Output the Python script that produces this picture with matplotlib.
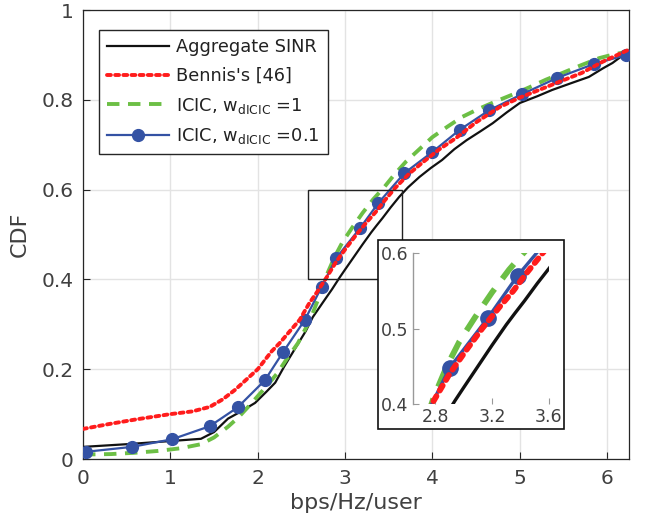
import matplotlib
matplotlib.use("Agg")
import matplotlib.pyplot as plt
from matplotlib.patches import Rectangle
from matplotlib.ticker import FuncFormatter

# ---------------- data ----------------
agg_x = [0, 0.5, 1.0, 1.35, 1.5, 1.66, 1.8, 1.97, 2.1, 2.2, 2.3, 2.44, 2.55, 2.63,
         2.75, 2.85, 2.94, 3.0, 3.1, 3.2, 3.3, 3.36, 3.43, 3.52, 3.62, 3.72, 3.85,
         3.98, 4.11, 4.25, 4.39, 4.55, 4.69, 4.85, 5.0, 5.2, 5.37, 5.6, 5.79, 5.95,
         6.06, 6.15, 6.25]
agg_y = [0.027, 0.033, 0.04, 0.045, 0.06, 0.09, 0.105, 0.125, 0.15, 0.17, 0.205,
         0.25, 0.285, 0.316, 0.35, 0.378, 0.405, 0.422, 0.45, 0.478, 0.505, 0.52,
         0.537, 0.56, 0.584, 0.605, 0.628, 0.648, 0.666, 0.69, 0.71, 0.73, 0.748,
         0.772, 0.793, 0.808, 0.822, 0.838, 0.851, 0.87, 0.882, 0.895, 0.90]

ben_x = [0, 0.3, 0.6, 1.0, 1.25, 1.45, 1.6, 1.74, 1.87, 2.0, 2.16, 2.25, 2.36, 2.48,
         2.59, 2.69, 2.79, 2.9, 3.02, 3.13, 3.25, 3.35, 3.45, 3.57, 3.73, 3.89, 4.08,
         4.27, 4.5, 4.77, 5.0, 5.22, 5.45, 5.71, 5.95, 6.25]
ben_y = [0.067, 0.078, 0.088, 0.10, 0.106, 0.116, 0.133, 0.154, 0.177, 0.20, 0.24,
         0.258, 0.283, 0.31, 0.347, 0.375, 0.405, 0.44, 0.472, 0.50, 0.528, 0.55,
         0.575, 0.603, 0.635, 0.661, 0.69, 0.715, 0.75, 0.784, 0.805, 0.822, 0.84,
         0.86, 0.885, 0.912]

icic1_x = [0, 0.32, 0.6, 0.86, 1.12, 1.35, 1.5, 1.66, 1.78, 1.89, 2.0, 2.1, 2.22,
           2.34, 2.46, 2.6, 2.7, 2.79, 2.88, 2.97, 3.08, 3.2, 3.32, 3.45, 3.57, 3.7,
           3.85, 4.0, 4.17, 4.34, 4.53, 4.73, 4.92, 5.11, 5.3, 5.49, 5.7, 5.91, 6.05,
           6.17, 6.25]
icic1_y = [0.01, 0.011, 0.014, 0.018, 0.024, 0.033, 0.048, 0.072, 0.093, 0.116, 0.14,
           0.162, 0.19, 0.225, 0.258, 0.31, 0.36, 0.41, 0.45, 0.483, 0.515, 0.548,
           0.578, 0.606, 0.635, 0.663, 0.69, 0.717, 0.74, 0.762, 0.78, 0.797, 0.812,
           0.828, 0.845, 0.86, 0.877, 0.893, 0.9, 0.905, 0.91]

icic01_x = [0.03, 0.56, 1.02, 1.45, 1.77, 2.08, 2.29, 2.54, 2.73, 2.90, 3.17, 3.38,
            3.68, 4.0, 4.31, 4.65, 5.03, 5.43, 5.85, 6.22]
icic01_y = [0.016, 0.027, 0.044, 0.073, 0.115, 0.175, 0.238, 0.31, 0.383, 0.448,
            0.514, 0.57, 0.637, 0.684, 0.733, 0.777, 0.813, 0.849, 0.88, 0.90]

labels = ["Aggregate SINR", "Bennis's [46]",
          r"ICIC, w$_{\mathrm{dICIC}}$ =1", r"ICIC, w$_{\mathrm{dICIC}}$ =0.1"]
x_ticks = [0, 1, 2, 3, 4, 5, 6]
y_ticks = [0, 0.2, 0.4, 0.6, 0.8, 1]
inset_xticks = [2.8, 3.2, 3.6]
inset_yticks = [0.4, 0.5, 0.6]

# ---------------- style ----------------
C_BLACK = "#111111"
C_RED = "#ff1c1c"
C_GREEN = "#6cbf45"
C_BLUE = "#3452a4"
AX_COL = "#262626"
TXT_COL = "#404040"

plt.rcParams["font.family"] = ["DejaVu Sans"]
plt.rcParams["mathtext.fontset"] = "dejavusans"

fig = plt.figure(figsize=(6.46, 5.29), dpi=100)
ax = fig.add_axes([0.1285, 0.1323, 0.8452, 0.8487])


def draw(a, lw_scale=1.0, ms=8.5):
    a.plot(agg_x, agg_y, color=C_BLACK, lw=1.6 * lw_scale, label=labels[0], zorder=3)
    a.plot(ben_x, ben_y, color=C_RED, lw=2.8 * lw_scale, ls=(0, (1, 1.1)),
           dash_capstyle="round", label=labels[1], zorder=4)
    a.plot(icic1_x, icic1_y, color=C_GREEN, lw=2.8 * lw_scale, ls=(0, (3.2, 2.2)),
           label=labels[2], zorder=3)
    a.plot(icic01_x, icic01_y, color=C_BLUE, lw=1.6 * lw_scale, marker="o",
           markersize=ms, markerfacecolor=C_BLUE, markeredgecolor=C_BLUE,
           label=labels[3], zorder=3.5)


draw(ax)
ax.set_xlim(0, 6.25)
ax.set_ylim(0, 1)
ax.set_xticks(x_ticks)
ax.set_yticks(y_ticks)
fmt = FuncFormatter(lambda v, p: "%g" % v)
ax.xaxis.set_major_formatter(fmt)
ax.yaxis.set_major_formatter(fmt)
ax.grid(True, color="#e3e3e3", lw=1.0, zorder=0)
ax.set_axisbelow(True)
ax.tick_params(direction="in", length=5, width=0.8, colors=AX_COL,
               labelcolor=TXT_COL, labelsize=14.5, pad=7, top=False, right=False)
for s in ax.spines.values():
    s.set_color(AX_COL)
    s.set_linewidth(0.9)
ax.set_xlabel("bps/Hz/user", fontsize=16, color=TXT_COL, labelpad=4)
ax.set_ylabel("CDF", fontsize=16, color=TXT_COL, labelpad=8)

# zoom rectangle in main axes
ax.add_patch(Rectangle((2.57, 0.4), 1.08, 0.2, fill=False, ec="#222222", lw=1.0,
                       zorder=5))

leg = ax.legend(loc="upper left", bbox_to_anchor=(0.029, 0.955), borderaxespad=0,
                fontsize=12.8, frameon=True, fancybox=False, handlelength=3.5,
                handletextpad=0.4, labelspacing=0.6, borderpad=0.45)
leg.get_frame().set_edgecolor(AX_COL)
leg.get_frame().set_linewidth(1.0)
leg.get_frame().set_alpha(1)
for t in leg.get_texts():
    t.set_color("#222222")

# outer box of the inset
fig.patches.append(Rectangle((0.585, 0.189), 0.288, 0.357, transform=fig.transFigure,
                             facecolor="white", edgecolor="#111111", lw=1.2,
                             zorder=10))

ins = fig.add_axes([0.639, 0.2363, 0.2105, 0.2854])
ins.set_zorder(11)
ins.patch.set_alpha(0)
draw(ins, lw_scale=1.5, ms=11)
ins.set_xlim(2.64, 3.6)
ins.set_ylim(0.4, 0.6)
ins.set_xticks(inset_xticks)
ins.set_yticks(inset_yticks)
ins.xaxis.set_major_formatter(fmt)
ins.yaxis.set_major_formatter(fmt)
ins.tick_params(direction="in", length=4, width=0.8, colors="#999999",
                labelcolor=TXT_COL, labelsize=12.5, pad=3)
for k, s in ins.spines.items():
    if k == "left":
        s.set_color("#999999")
        s.set_linewidth(1.0)
    else:
        s.set_visible(False)

fig.savefig("out.png", dpi=100)
